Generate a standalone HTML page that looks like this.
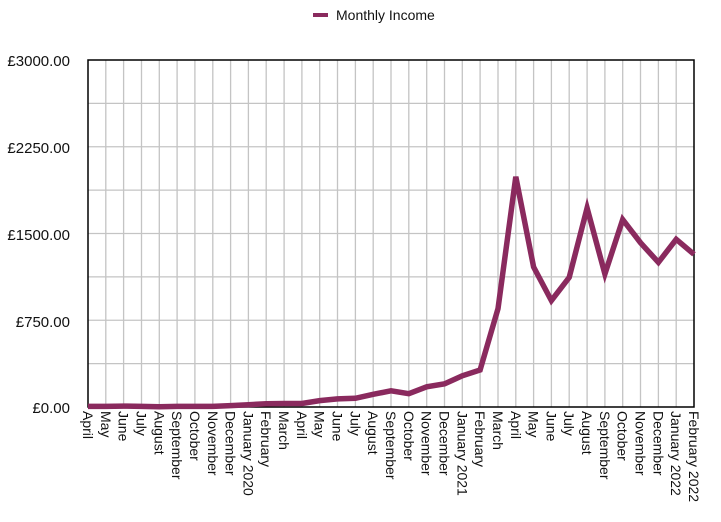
<!DOCTYPE html>
<html><head><meta charset="utf-8"><style>
html,body{margin:0;padding:0;background:#fff;}
svg{display:block;font-family:"Liberation Sans",Arial,sans-serif;}
</style></head><body>
<svg width="721" height="522" viewBox="0 0 721 522">
<rect width="721" height="522" fill="#fff"/>
<g stroke="#c4c4c4" stroke-width="1.3">
<line x1="88" y1="103.4" x2="694" y2="103.4"/><line x1="88" y1="146.75" x2="694" y2="146.75"/>
<line x1="88" y1="190.1" x2="694" y2="190.1"/><line x1="88" y1="233.5" x2="694" y2="233.5"/>
<line x1="88" y1="276.9" x2="694" y2="276.9"/><line x1="88" y1="320.25" x2="694" y2="320.25"/>
<line x1="88" y1="363.6" x2="694" y2="363.6"/>
<line x1="105.8" y1="60" x2="105.8" y2="407"/><line x1="123.6" y1="60" x2="123.6" y2="407"/><line x1="141.5" y1="60" x2="141.5" y2="407"/><line x1="159.3" y1="60" x2="159.3" y2="407"/><line x1="177.1" y1="60" x2="177.1" y2="407"/><line x1="194.9" y1="60" x2="194.9" y2="407"/><line x1="212.8" y1="60" x2="212.8" y2="407"/><line x1="230.6" y1="60" x2="230.6" y2="407"/><line x1="248.4" y1="60" x2="248.4" y2="407"/><line x1="266.2" y1="60" x2="266.2" y2="407"/><line x1="284.1" y1="60" x2="284.1" y2="407"/><line x1="301.9" y1="60" x2="301.9" y2="407"/><line x1="319.7" y1="60" x2="319.7" y2="407"/><line x1="337.5" y1="60" x2="337.5" y2="407"/><line x1="355.4" y1="60" x2="355.4" y2="407"/><line x1="373.2" y1="60" x2="373.2" y2="407"/><line x1="391" y1="60" x2="391" y2="407"/><line x1="408.8" y1="60" x2="408.8" y2="407"/><line x1="426.7" y1="60" x2="426.7" y2="407"/><line x1="444.5" y1="60" x2="444.5" y2="407"/><line x1="462.3" y1="60" x2="462.3" y2="407"/><line x1="480.1" y1="60" x2="480.1" y2="407"/><line x1="498" y1="60" x2="498" y2="407"/><line x1="515.8" y1="60" x2="515.8" y2="407"/><line x1="533.6" y1="60" x2="533.6" y2="407"/><line x1="551.4" y1="60" x2="551.4" y2="407"/><line x1="569.2" y1="60" x2="569.2" y2="407"/><line x1="587.1" y1="60" x2="587.1" y2="407"/><line x1="604.9" y1="60" x2="604.9" y2="407"/><line x1="622.7" y1="60" x2="622.7" y2="407"/><line x1="640.5" y1="60" x2="640.5" y2="407"/><line x1="658.4" y1="60" x2="658.4" y2="407"/><line x1="676.2" y1="60" x2="676.2" y2="407"/>
</g>
<rect x="88" y="60" width="606" height="347" fill="none" stroke="#000" stroke-width="1.5"/>
<g font-size="15" fill="#111" text-anchor="end">
<text x="70" y="66">£3000.00</text><text x="70" y="153">£2250.00</text><text x="70" y="240">£1500.00</text><text x="70" y="327">£750.00</text><text x="70" y="413">£0.00</text>
</g>
<polyline fill="none" stroke="#8a2a5e" stroke-width="5.5" stroke-linejoin="miter" points="88,406.4 105.8,406.4 123.6,406.1 141.5,406.4 159.3,406.7 177.1,406.4 194.9,406.4 212.8,406.4 230.6,405.6 248.4,404.7 266.2,403.8 284.1,403.5 301.9,403.5 319.7,400.6 337.5,398.9 355.4,398.3 373.2,394.3 391,390.8 408.8,393.7 426.7,386.8 444.5,383.9 462.3,375.8 480.1,370 498,308.7 515.8,176.8 533.6,267 551.4,300.6 569.2,277.4 587.1,208 604.9,274 622.7,219.6 640.5,242.7 658.4,262.4 676.2,239.3 694,254.3"/>
<line x1="313" y1="15" x2="328" y2="15" stroke="#8a2a5e" stroke-width="4"/>
<text x="336" y="20" font-size="14" fill="#111">Monthly Income</text>
<g font-size="14" fill="#111">
<text transform="translate(83,411) rotate(90)">April</text>
<text transform="translate(100.8,411) rotate(90)">May</text>
<text transform="translate(118.6,411) rotate(90)">June</text>
<text transform="translate(136.5,411) rotate(90)">July</text>
<text transform="translate(154.3,411) rotate(90)">August</text>
<text transform="translate(172.1,411) rotate(90)">September</text>
<text transform="translate(189.9,411) rotate(90)">October</text>
<text transform="translate(207.8,411) rotate(90)">November</text>
<text transform="translate(225.6,411) rotate(90)">December</text>
<text transform="translate(243.4,411) rotate(90)">January 2020</text>
<text transform="translate(261.2,411) rotate(90)">February</text>
<text transform="translate(279.1,411) rotate(90)">March</text>
<text transform="translate(296.9,411) rotate(90)">April</text>
<text transform="translate(314.7,411) rotate(90)">May</text>
<text transform="translate(332.5,411) rotate(90)">June</text>
<text transform="translate(350.4,411) rotate(90)">July</text>
<text transform="translate(368.2,411) rotate(90)">August</text>
<text transform="translate(386,411) rotate(90)">September</text>
<text transform="translate(403.8,411) rotate(90)">October</text>
<text transform="translate(421.7,411) rotate(90)">November</text>
<text transform="translate(439.5,411) rotate(90)">December</text>
<text transform="translate(457.3,411) rotate(90)">January 2021</text>
<text transform="translate(475.1,411) rotate(90)">February</text>
<text transform="translate(493,411) rotate(90)">March</text>
<text transform="translate(510.8,411) rotate(90)">April</text>
<text transform="translate(528.6,411) rotate(90)">May</text>
<text transform="translate(546.4,411) rotate(90)">June</text>
<text transform="translate(564.2,411) rotate(90)">July</text>
<text transform="translate(582.1,411) rotate(90)">August</text>
<text transform="translate(599.9,411) rotate(90)">September</text>
<text transform="translate(617.7,411) rotate(90)">October</text>
<text transform="translate(635.5,411) rotate(90)">November</text>
<text transform="translate(653.4,411) rotate(90)">December</text>
<text transform="translate(671.2,411) rotate(90)">January 2022</text>
<text transform="translate(689,411) rotate(90)">February 2022</text>
</g>
</svg>
</body></html>
